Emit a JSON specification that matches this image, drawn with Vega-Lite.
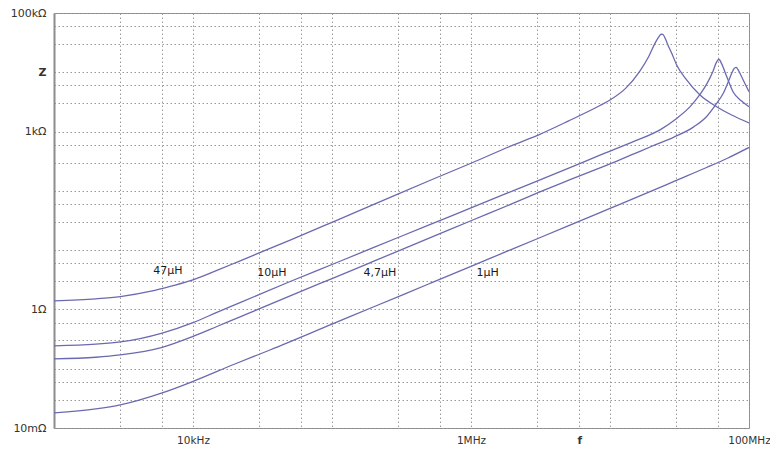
{
  "$schema": "https://vega.github.io/schema/vega-lite/v6.json",
  "width": 695,
  "height": 415,
  "autosize": "none",
  "padding": {"left": 54, "top": 13, "right": 21, "bottom": 22},
  "background": "white",
  "config": {
    "view": {"stroke": "#8c8c8c", "strokeWidth": 1},
    "font": "DejaVu Sans"
  },
  "datasets": {
    "curves": [
      {"L": "47µH", "f": 1000, "Z": 1.39},
      {"L": "47µH", "f": 2000, "Z": 1.51},
      {"L": "47µH", "f": 3000, "Z": 1.65},
      {"L": "47µH", "f": 5000, "Z": 2.03},
      {"L": "47µH", "f": 7000, "Z": 2.48},
      {"L": "47µH", "f": 10000, "Z": 3.15},
      {"L": "47µH", "f": 15000, "Z": 4.6},
      {"L": "47µH", "f": 20000, "Z": 6.06},
      {"L": "47µH", "f": 50000, "Z": 14.8},
      {"L": "47µH", "f": 100000, "Z": 29.5},
      {"L": "47µH", "f": 200000, "Z": 59},
      {"L": "47µH", "f": 500000, "Z": 148},
      {"L": "47µH", "f": 1000000, "Z": 292},
      {"L": "47µH", "f": 2000000, "Z": 590},
      {"L": "47µH", "f": 3130000, "Z": 900},
      {"L": "47µH", "f": 5000000, "Z": 1500},
      {"L": "47µH", "f": 8470000, "Z": 2750},
      {"L": "47µH", "f": 10000000, "Z": 3400},
      {"L": "47µH", "f": 13000000, "Z": 5400},
      {"L": "47µH", "f": 16400000, "Z": 10500},
      {"L": "47µH", "f": 19000000, "Z": 18500},
      {"L": "47µH", "f": 21100000, "Z": 31000},
      {"L": "47µH", "f": 22500000, "Z": 40000},
      {"L": "47µH", "f": 23300000, "Z": 43800},
      {"L": "47µH", "f": 24000000, "Z": 43500},
      {"L": "47µH", "f": 25000000, "Z": 37000},
      {"L": "47µH", "f": 26000000, "Z": 29500},
      {"L": "47µH", "f": 27900000, "Z": 20500},
      {"L": "47µH", "f": 30300000, "Z": 13000},
      {"L": "47µH", "f": 35000000, "Z": 7800},
      {"L": "47µH", "f": 44400000, "Z": 4140},
      {"L": "47µH", "f": 58900000, "Z": 2600},
      {"L": "47µH", "f": 75000000, "Z": 1900},
      {"L": "47µH", "f": 100000000, "Z": 1400},

      {"L": "10µH", "f": 1000, "Z": 0.243},
      {"L": "10µH", "f": 2000, "Z": 0.26},
      {"L": "10µH", "f": 3000, "Z": 0.283},
      {"L": "10µH", "f": 6000, "Z": 0.4},
      {"L": "10µH", "f": 10000, "Z": 0.6},
      {"L": "10µH", "f": 15000, "Z": 0.9},
      {"L": "10µH", "f": 21800, "Z": 1.3},
      {"L": "10µH", "f": 50000, "Z": 2.96},
      {"L": "10µH", "f": 100000, "Z": 5.73},
      {"L": "10µH", "f": 200000, "Z": 11.1},
      {"L": "10µH", "f": 500000, "Z": 26.7},
      {"L": "10µH", "f": 1000000, "Z": 51.6},
      {"L": "10µH", "f": 2000000, "Z": 100},
      {"L": "10µH", "f": 5000000, "Z": 240},
      {"L": "10µH", "f": 8470000, "Z": 400},
      {"L": "10µH", "f": 15000000, "Z": 690},
      {"L": "10µH", "f": 22900000, "Z": 1070},
      {"L": "10µH", "f": 30000000, "Z": 1650},
      {"L": "10µH", "f": 37700000, "Z": 2630},
      {"L": "10µH", "f": 44000000, "Z": 4100},
      {"L": "10µH", "f": 49600000, "Z": 6300},
      {"L": "10µH", "f": 55000000, "Z": 10300},
      {"L": "10µH", "f": 58500000, "Z": 15000},
      {"L": "10µH", "f": 60800000, "Z": 16600},
      {"L": "10µH", "f": 63500000, "Z": 14000},
      {"L": "10µH", "f": 69200000, "Z": 8400},
      {"L": "10µH", "f": 77100000, "Z": 4600},
      {"L": "10µH", "f": 88000000, "Z": 3300},
      {"L": "10µH", "f": 100000000, "Z": 2630},

      {"L": "4,7µH", "f": 1000, "Z": 0.146},
      {"L": "4,7µH", "f": 2000, "Z": 0.156},
      {"L": "4,7µH", "f": 3000, "Z": 0.171},
      {"L": "4,7µH", "f": 6000, "Z": 0.229},
      {"L": "4,7µH", "f": 10000, "Z": 0.35},
      {"L": "4,7µH", "f": 15000, "Z": 0.52},
      {"L": "4,7µH", "f": 21800, "Z": 0.75},
      {"L": "4,7µH", "f": 50000, "Z": 1.69},
      {"L": "4,7µH", "f": 100000, "Z": 3.32},
      {"L": "4,7µH", "f": 200000, "Z": 6.52},
      {"L": "4,7µH", "f": 500000, "Z": 15.9},
      {"L": "4,7µH", "f": 1000000, "Z": 31.3},
      {"L": "4,7µH", "f": 2000000, "Z": 61.4},
      {"L": "4,7µH", "f": 3130000, "Z": 96},
      {"L": "4,7µH", "f": 5000000, "Z": 150},
      {"L": "4,7µH", "f": 8470000, "Z": 245},
      {"L": "4,7µH", "f": 10000000, "Z": 285},
      {"L": "4,7µH", "f": 15000000, "Z": 425},
      {"L": "4,7µH", "f": 20000000, "Z": 565},
      {"L": "4,7µH", "f": 28600000, "Z": 800},
      {"L": "4,7µH", "f": 40000000, "Z": 1200},
      {"L": "4,7µH", "f": 49600000, "Z": 1800},
      {"L": "4,7µH", "f": 58000000, "Z": 2900},
      {"L": "4,7µH", "f": 65300000, "Z": 4430},
      {"L": "4,7µH", "f": 70000000, "Z": 6400},
      {"L": "4,7µH", "f": 75100000, "Z": 9600},
      {"L": "4,7µH", "f": 78000000, "Z": 11500},
      {"L": "4,7µH", "f": 80700000, "Z": 12100},
      {"L": "4,7µH", "f": 84000000, "Z": 10800},
      {"L": "4,7µH", "f": 88500000, "Z": 8400},
      {"L": "4,7µH", "f": 94000000, "Z": 6300},
      {"L": "4,7µH", "f": 100000000, "Z": 4710},

      {"L": "1µH", "f": 1000, "Z": 0.018},
      {"L": "1µH", "f": 2000, "Z": 0.021},
      {"L": "1µH", "f": 3000, "Z": 0.0245},
      {"L": "1µH", "f": 6000, "Z": 0.039},
      {"L": "1µH", "f": 10000, "Z": 0.061},
      {"L": "1µH", "f": 20000, "Z": 0.12},
      {"L": "1µH", "f": 35800, "Z": 0.207},
      {"L": "1µH", "f": 100000, "Z": 0.564},
      {"L": "1µH", "f": 200000, "Z": 1.11},
      {"L": "1µH", "f": 500000, "Z": 2.71},
      {"L": "1µH", "f": 1000000, "Z": 5.33},
      {"L": "1µH", "f": 2000000, "Z": 10.5},
      {"L": "1µH", "f": 5000000, "Z": 25.6},
      {"L": "1µH", "f": 8470000, "Z": 42.9},
      {"L": "1µH", "f": 10000000, "Z": 50.5},
      {"L": "1µH", "f": 20000000, "Z": 100},
      {"L": "1µH", "f": 28600000, "Z": 143},
      {"L": "1µH", "f": 40000000, "Z": 200},
      {"L": "1µH", "f": 50000000, "Z": 250},
      {"L": "1µH", "f": 70000000, "Z": 355},
      {"L": "1µH", "f": 100000000, "Z": 540}
    ],
    "labels": [
      {"label": "47µH", "f": 6600, "Z": 4.5},
      {"label": "10µH", "f": 37000, "Z": 4.1},
      {"label": "4,7µH", "f": 221000, "Z": 4.1},
      {"label": "1µH", "f": 1320000, "Z": 4.1}
    ]
  },
  "layer": [
    {
      "data": {"name": "curves"},
      "mark": {"type": "line", "color": "#6a6ab0", "strokeWidth": 1.3, "clip": true, "interpolate": "monotone"},
      "encoding": {
        "x": {
          "field": "f", "type": "quantitative",
          "scale": {"type": "log", "domain": [1000, 100000000], "nice": false},
          "axis": {
            "title": null,
            "values": [1000, 3000, 6000, 10000, 30000, 60000, 100000, 300000, 600000, 1000000, 3000000, 6000000, 10000000, 30000000, 60000000, 100000000],
            "labelExpr": "datum.value == 10000 ? '10kHz' : datum.value == 1000000 ? '1MHz' : datum.value == 6000000 ? 'f' : datum.value == 100000000 ? '100MHz' : ''",
            "labelFontWeight": {"condition": {"test": "datum.value == 6000000", "value": "bold"}, "value": "normal"},
            "labelOverlap": false,
            "labelFlush": false,
            "labelBound": false,
            "labelFontSize": 10.5,
            "labelColor": "#333333",
            "labelPadding": 7,
            "ticks": false,
            "domain": false,
            "grid": true,
            "gridColor": "#9a9a9a",
            "gridDash": [1.5, 2.5],
            "gridWidth": 1
          }
        },
        "y": {
          "field": "Z", "type": "quantitative",
          "scale": {"type": "log", "domain": [0.01, 100000], "nice": false},
          "axis": {
            "title": null,
            "values": [0.01, 0.03, 0.06, 0.1, 0.3, 0.6, 1, 3, 6, 10, 30, 60, 100, 300, 600, 1000, 3000, 6000, 10000, 30000, 60000, 100000],
            "labelExpr": "datum.value == 100000 ? '100kΩ' : datum.value == 10000 ? 'Z' : datum.value == 1000 ? '1kΩ' : datum.value == 1 ? '1Ω' : datum.value == 0.01 ? '10mΩ' : ''",
            "labelFontWeight": {"condition": {"test": "datum.value == 10000", "value": "bold"}, "value": "normal"},
            "labelOverlap": false,
            "labelFlush": false,
            "labelBound": false,
            "labelFontSize": 11,
            "labelColor": "#333333",
            "labelPadding": 8,
            "ticks": false,
            "domain": true,
            "domainColor": "#8c8c8c",
            "domainWidth": 2,
            "grid": true,
            "gridColor": "#9a9a9a",
            "gridDash": [1.5, 2.5],
            "gridWidth": 1
          }
        },
        "detail": {"field": "L", "type": "nominal"}
      }
    },
    {
      "data": {"name": "labels"},
      "mark": {"type": "text", "fontSize": 11, "color": "#1a1a1a", "align": "center", "baseline": "middle"},
      "encoding": {
        "x": {"field": "f", "type": "quantitative"},
        "y": {"field": "Z", "type": "quantitative"},
        "text": {"field": "label", "type": "nominal"}
      }
    }
  ]
}
